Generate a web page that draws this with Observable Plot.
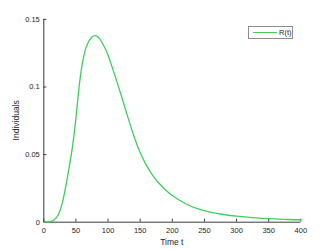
<!DOCTYPE html>
<html>
<head>
<meta charset="utf-8">
<script src="https://cdn.jsdelivr.net/npm/d3@7"></script>
<script src="https://cdn.jsdelivr.net/npm/@observablehq/plot@0.6"></script>
<style>
  html, body { margin: 0; padding: 0; background: #fff; }
  #wrap { position: relative; width: 332px; height: 249px; font-family: "Liberation Sans", Arial, sans-serif; }
  #legend { position: absolute; left: 248px; top: 26px; width: 45px; height: 13px; border: 1px solid #8c8c8c; background: #fff; box-sizing: border-box; }
  #legend .ln { position: absolute; left: 4px; top: 5px; width: 24px; height: 1px; background: #3ecf5e; }
  #legend .tx { position: absolute; left: 30px; top: 0px; font-size: 7.5px; color: #262626; line-height: 12px; }
</style>
</head>
<body>
<div id="wrap"></div>
<script>
const seriesName = "R(t)";
const tValues = [0, 10, 20, 30, 40, 45, 50, 55, 60, 65, 70, 75, 80, 85, 90, 95, 100, 110, 120, 130, 140, 150, 160, 170, 180, 190, 200, 220, 240, 260, 280, 300, 320, 340, 360, 380, 400];
const rValues = [0, 0.0004, 0.0035, 0.0165, 0.042, 0.057, 0.077, 0.1005, 0.1175, 0.128, 0.1338, 0.137, 0.138, 0.1368, 0.1335, 0.129, 0.1235, 0.1095, 0.0945, 0.079, 0.064, 0.0515, 0.0418, 0.0343, 0.0284, 0.0237, 0.0198, 0.0138, 0.0098, 0.0073, 0.0057, 0.0045, 0.0036, 0.0029, 0.0024, 0.0020, 0.0018];
const xTicks = [0, 50, 100, 150, 200, 250, 300, 350, 400];
const yTicks = [0, 0.05, 0.1, 0.15];
const xLabel = "Time t";
const yLabel = "Individuals";

const data = tValues.map((t, i) => ({t, r: rValues[i]}));
const axisColor = "#3a3a3a";

const chart = Plot.plot({
  width: 332,
  height: 249,
  marginLeft: 43.3,
  marginRight: 31.7,
  marginTop: 18.9,
  marginBottom: 27.3,
  style: {fontFamily: "'Liberation Sans', Arial, sans-serif", fontSize: "7.5px", color: "#262626", background: "#fff"},
  x: {domain: [0, 400]},
  y: {domain: [0, 0.15]},
  marks: [
    Plot.axisX({ticks: xTicks, tickSize: -3, tickPadding: 8, stroke: axisColor, fill: "#262626", label: null,
      tickFormat: d => String(d)}),
    Plot.axisY({ticks: yTicks, tickSize: -3, tickPadding: 7, stroke: axisColor, fill: "#262626", label: null,
      tickFormat: d => String(d)}),
    Plot.ruleY([0], {stroke: axisColor, strokeWidth: 1}),
    Plot.ruleX([0], {stroke: axisColor, strokeWidth: 1}),
    Plot.line(data, {x: "t", y: "r", stroke: "#3ecf5e", strokeWidth: 1.3, curve: "natural"})
  ]
});

const wrap = document.getElementById("wrap");
wrap.appendChild(chart);

const svg = d3.select(chart);
svg.append("text").attr("x", 171.8).attr("y", 244.5).attr("text-anchor", "middle")
  .attr("font-size", "8.5px").attr("fill", "#262626").text(xLabel);
svg.append("text").attr("transform", "translate(19,120.3) rotate(-90)").attr("text-anchor", "middle")
  .attr("font-size", "8.5px").attr("fill", "#262626").text(yLabel);

const lg = document.createElement("div");
lg.id = "legend";
lg.innerHTML = '<div class="ln"></div><div class="tx"></div>';
lg.querySelector(".tx").textContent = seriesName;
wrap.appendChild(lg);
</script>
</body>
</html>
